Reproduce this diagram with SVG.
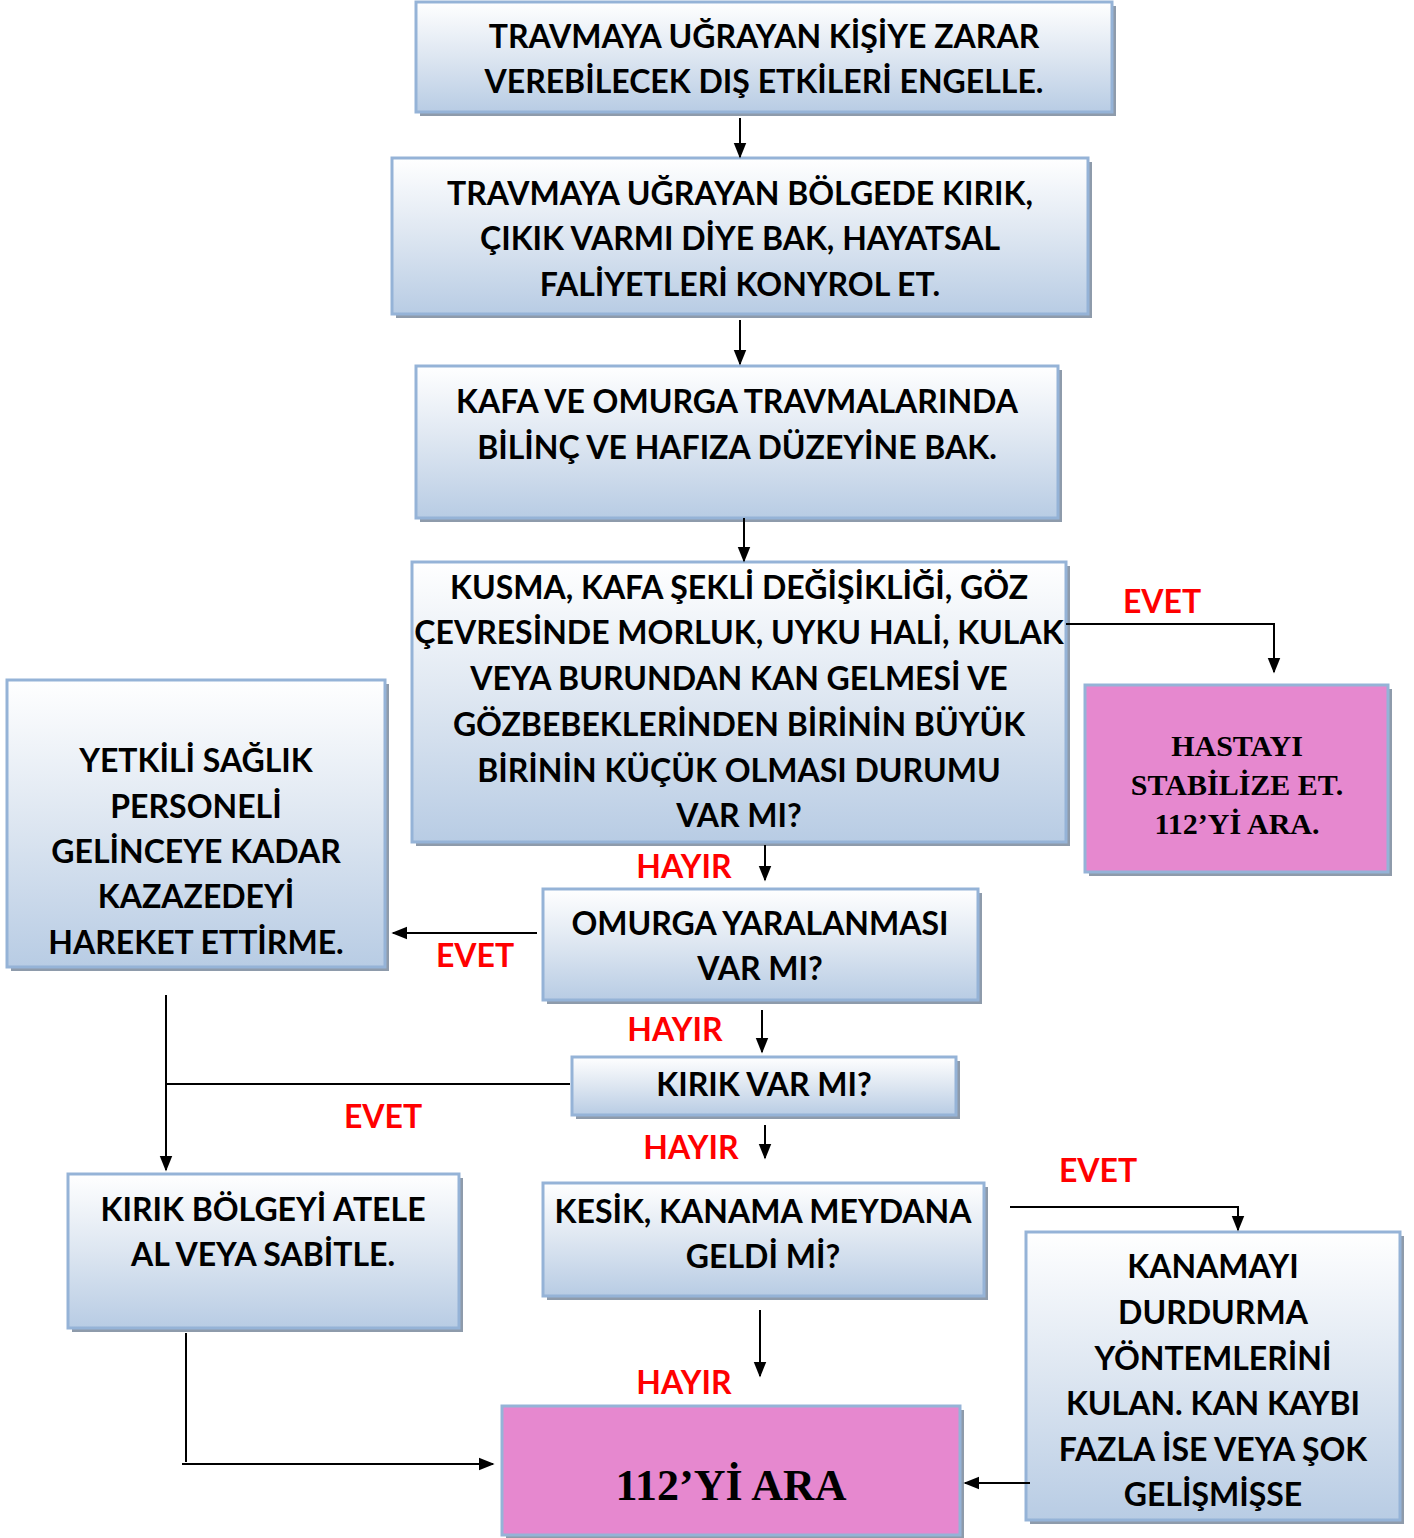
<svg xmlns="http://www.w3.org/2000/svg" width="1414" height="1538" viewBox="0 0 1414 1538">
<defs>
<linearGradient id="g" x1="0" y1="0" x2="0" y2="1">
<stop offset="0" stop-color="#ffffff"/>
<stop offset="0.5" stop-color="#dde6f1"/>
<stop offset="1" stop-color="#b8cce4"/>
</linearGradient>
<marker id="a" viewBox="0 0 10 10" refX="9" refY="5" markerWidth="16" markerHeight="16" markerUnits="userSpaceOnUse" orient="auto">
<path d="M0,1 L10,5 L0,9 z" fill="#000"/>
</marker>
</defs>
<style>
.sh{fill:#8e9bab}
.bx{fill:url(#g);stroke:#95b3d7;stroke-width:3}
.pk{fill:#e688cf;stroke:#95b3d7;stroke-width:3}
.t{font-family:Lato,"Open Sans",sans-serif;font-weight:bold;font-size:32px;fill:#000;text-anchor:middle}
.s{font-family:"Liberation Serif",serif;font-weight:bold;font-size:30px;fill:#000;text-anchor:middle}
.r{font-family:Lato,"Open Sans",sans-serif;font-weight:bold;font-size:32px;fill:#ff0000;text-anchor:middle}
.c{stroke:#000;stroke-width:2;fill:none}
</style>

<g id="n1">
<rect class="sh" x="420" y="6" width="696" height="110"/>
<rect class="bx" x="416" y="2" width="696" height="110"/>
<text class="t" x="764" y="48">TRAVMAYA UĞRAYAN KİŞİYE ZARAR</text>
<text class="t" x="764" y="93">VEREBİLECEK DIŞ ETKİLERİ ENGELLE.</text>
</g>
<g id="n2">
<rect class="sh" x="396" y="162" width="696" height="156"/>
<rect class="bx" x="392" y="158" width="696" height="156"/>
<text class="t" x="740" y="205">TRAVMAYA UĞRAYAN BÖLGEDE KIRIK,</text>
<text class="t" x="740" y="250">ÇIKIK VARMI DİYE BAK, HAYATSAL</text>
<text class="t" x="740" y="296">FALİYETLERİ KONYROL ET.</text>
</g>
<g id="n3">
<rect class="sh" x="420" y="370" width="642" height="152"/>
<rect class="bx" x="416" y="366" width="642" height="152"/>
<text class="t" x="737" y="413">KAFA VE OMURGA TRAVMALARINDA</text>
<text class="t" x="737" y="459">BİLİNÇ VE HAFIZA DÜZEYİNE BAK.</text>
</g>
<g id="n4">
<rect class="sh" x="416" y="566" width="654" height="280"/>
<rect class="bx" x="412" y="562" width="654" height="280"/>
<text class="t" x="739" y="599">KUSMA, KAFA ŞEKLİ DEĞİŞİKLİĞİ, GÖZ</text>
<text class="t" x="739" y="644">ÇEVRESİNDE MORLUK, UYKU HALİ, KULAK</text>
<text class="t" x="739" y="690">VEYA BURUNDAN KAN GELMESİ VE</text>
<text class="t" x="739" y="736">GÖZBEBEKLERİNDEN BİRİNİN BÜYÜK</text>
<text class="t" x="739" y="782">BİRİNİN KÜÇÜK OLMASI DURUMU</text>
<text class="t" x="739" y="827">VAR MI?</text>
</g>
<g id="n5">
<rect class="sh" x="1089" y="689" width="303" height="187"/>
<rect class="pk" x="1085" y="685" width="303" height="187"/>
<text class="s" x="1237" y="756">HASTAYI</text>
<text class="s" x="1237" y="795">STABİLİZE ET.</text>
<text class="s" x="1237" y="834">112’Yİ ARA.</text>
</g>
<g id="n6">
<rect class="sh" x="11" y="684" width="378" height="287"/>
<rect class="bx" x="7" y="680" width="378" height="287"/>
<text class="t" x="196" y="772">YETKİLİ SAĞLIK</text>
<text class="t" x="196" y="818">PERSONELİ</text>
<text class="t" x="196" y="863">GELİNCEYE KADAR</text>
<text class="t" x="196" y="908">KAZAZEDEYİ</text>
<text class="t" x="196" y="954">HAREKET ETTİRME.</text>
</g>
<g id="n7">
<rect class="sh" x="547" y="893" width="435" height="111"/>
<rect class="bx" x="543" y="889" width="435" height="111"/>
<text class="t" x="760" y="935">OMURGA YARALANMASI</text>
<text class="t" x="760" y="980">VAR MI?</text>
</g>
<g id="n8">
<rect class="sh" x="576" y="1061" width="384" height="58"/>
<rect class="bx" x="572" y="1057" width="384" height="58"/>
<text class="t" x="764" y="1096">KIRIK VAR MI?</text>
</g>
<g id="n9">
<rect class="sh" x="72" y="1178" width="391" height="154"/>
<rect class="bx" x="68" y="1174" width="391" height="154"/>
<text class="t" x="263" y="1221">KIRIK BÖLGEYİ ATELE</text>
<text class="t" x="263" y="1266">AL VEYA SABİTLE.</text>
</g>
<g id="n10">
<rect class="sh" x="547" y="1187" width="441" height="113"/>
<rect class="bx" x="543" y="1183" width="441" height="113"/>
<text class="t" x="763" y="1223">KESİK, KANAMA MEYDANA</text>
<text class="t" x="763" y="1268">GELDİ Mİ?</text>
</g>
<g id="n11">
<rect class="sh" x="1030" y="1236" width="374" height="288"/>
<rect class="bx" x="1026" y="1232" width="374" height="288"/>
<text class="t" x="1213" y="1278">KANAMAYI</text>
<text class="t" x="1213" y="1324">DURDURMA</text>
<text class="t" x="1213" y="1370">YÖNTEMLERİNİ</text>
<text class="t" x="1213" y="1415">KULAN. KAN KAYBI</text>
<text class="t" x="1213" y="1461">FAZLA İSE VEYA ŞOK</text>
<text class="t" x="1213" y="1506">GELİŞMİŞSE</text>
</g>
<g id="n12">
<rect class="sh" x="506" y="1410" width="458" height="129"/>
<rect class="pk" x="502" y="1406" width="458" height="129"/>
<text class="s" x="731" y="1500" style="font-size:44px">112’Yİ ARA</text>
</g>

<g id="connectors">
<line class="c" x1="740" y1="118" x2="740" y2="157" marker-end="url(#a)"/>
<line class="c" x1="740" y1="320" x2="740" y2="364" marker-end="url(#a)"/>
<line class="c" x1="744" y1="518" x2="744" y2="561" marker-end="url(#a)"/>
<polyline class="c" points="1066,624 1274,624 1274,672" marker-end="url(#a)"/>
<line class="c" x1="765" y1="845" x2="765" y2="880" marker-end="url(#a)"/>
<line class="c" x1="537" y1="933" x2="393" y2="933" marker-end="url(#a)"/>
<line class="c" x1="762" y1="1010" x2="762" y2="1052" marker-end="url(#a)"/>
<line class="c" x1="570" y1="1084" x2="166" y2="1084"/>
<line class="c" x1="166" y1="995" x2="166" y2="1170" marker-end="url(#a)"/>
<line class="c" x1="765" y1="1125" x2="765" y2="1158" marker-end="url(#a)"/>
<polyline class="c" points="1010,1207 1238,1207 1238,1230" marker-end="url(#a)"/>
<line class="c" x1="760" y1="1310" x2="760" y2="1376" marker-end="url(#a)"/>
<line class="c" x1="186" y1="1333" x2="186" y2="1462"/>
<line class="c" x1="182" y1="1464" x2="493" y2="1464" marker-end="url(#a)"/>
<line class="c" x1="1030" y1="1483" x2="965" y2="1483" marker-end="url(#a)"/>
<text class="r" x="1162" y="613">EVET</text>
<text class="r" x="684" y="878">HAYIR</text>
<text class="r" x="475" y="967">EVET</text>
<text class="r" x="675" y="1041">HAYIR</text>
<text class="r" x="383" y="1128">EVET</text>
<text class="r" x="691" y="1159">HAYIR</text>
<text class="r" x="1098" y="1182">EVET</text>
<text class="r" x="684" y="1394">HAYIR</text>
</g>
</svg>
